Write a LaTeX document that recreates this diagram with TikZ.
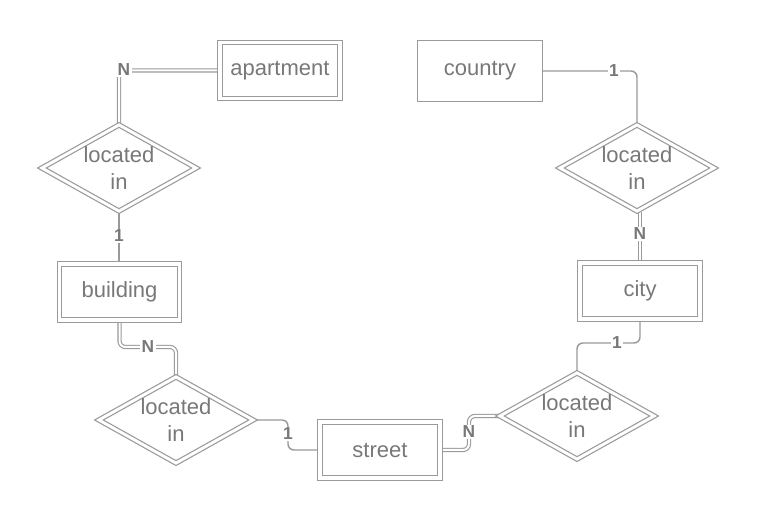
\documentclass[tikz,border=0pt]{standalone}
\usepackage{fontspec}
\setmainfont{Liberation Sans}
\usetikzlibrary{shapes.geometric,backgrounds}
\definecolor{ln}{HTML}{9A9A9A}
\definecolor{tx}{HTML}{787878}
\begin{document}
\begin{tikzpicture}[x=0.75pt,y=-0.75pt,
  lbl/.style={font=\fontsize{16.5}{19.8}\selectfont,text=tx},
  ent/.style={rectangle,draw=ln,line width=0.9pt,double=white,double distance=2.6pt,fill=white,
    minimum width=90pt,minimum height=42pt,inner sep=0pt,lbl},
  sent/.style={rectangle,draw=ln,line width=1.1pt,fill=white,
    minimum width=93.75pt,minimum height=45.75pt,inner sep=0pt,lbl},
  rel/.style={diamond,draw=ln,line width=0.9pt,double=white,double distance=2.2pt,fill=white,
    minimum width=116pt,minimum height=65pt,inner sep=0pt},
  reltext/.style={align=center,lbl},
  conn/.style={draw=ln,line width=1.1pt,rounded corners=4.5pt},
  dconn/.style={draw=ln,line width=0.85pt,double=white,double distance=1.5pt,rounded corners=4.5pt},
  card/.style={fill=white,inner sep=1pt,font=\fontsize{13}{15}\selectfont\bfseries,text=tx}]
\useasboundingbox (0,0) rectangle (757,523);

% entities
\node[ent]  (ap)      at (280,70.5) {apartment};
\node[sent] (country) at (480,71)   {country};
\node[ent]  (bld)     at (119.5,292){building};
\node[ent]  (city)    at (640,291)  {city};
\node[ent]  (street)  at (380,450)  {street};

% relationships
\node[rel] (d1) at (119,168) {};
\node[reltext] at (d1) {located\\in};
\node[rel] (d2) at (637,168) {};
\node[reltext] at (d2) {located\\in};
\node[rel] (d3) at (176,420) {};
\node[reltext] at (d3) {located\\in};
\node[rel] (d4) at (577,416) {};
\node[reltext] at (d4) {located\\in};

% bend points
\coordinate (b1) at (148,347);
\coordinate (c1) at (288,434);
\coordinate (c2) at (469,432);
\coordinate (c3) at (617,343);
\coordinate (c4) at (614,71);

\begin{scope}[on background layer]
  \fill[white] (0,0) rectangle (757,523);
  \draw[dconn] (ap.west) -| (d1.north);
  \draw[conn]  (d1.south) -- (d1.south |- bld.north);
  \draw[dconn] (bld.south) |- (b1) -| (d3.north);
  \draw[conn]  (d3.east) -| (c1) |- (street.west);
  \draw[dconn] (street.east) -| (c2) |- (d4.west);
  \draw[conn]  (d4.north) |- (c3) -| (city.south);
  \draw[dconn] (city.north) -- (city.north |- d2.south);
  \draw[conn]  (country.east) -- (c4) -| (d2.north);
\end{scope}

% cardinalities
\node[card] (n1) at (124,70)  {N};
\node[card] (n2) at (119,236) {1};
\node[card] (n3) at (b1)      {N};
\node[card] (n4) at (c1)      {1};
\node[card] (n5) at (c2)      {N};
\node[card] (n6) at (c3)      {1};
\node[card] (n7) at (640,234) {N};
\node[card] (n8) at (c4)      {1};
\end{tikzpicture}
\end{document}
